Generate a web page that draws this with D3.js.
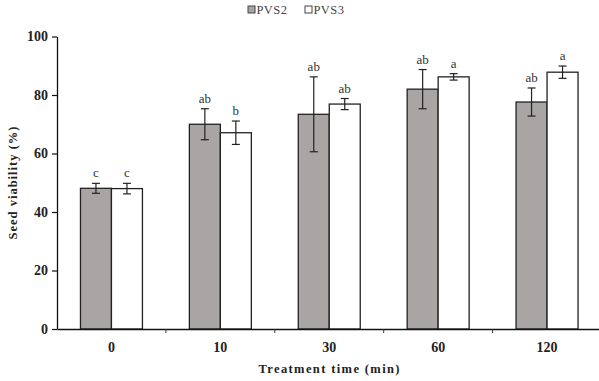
<!DOCTYPE html>
<html><head><meta charset="utf-8">
<script src="https://cdn.jsdelivr.net/npm/d3@7/dist/d3.min.js"></script>
<style>body{margin:0;background:#fff}svg{display:block}text{font-family:"Liberation Serif","Times New Roman",serif}</style>
</head><body>
<svg id="c" width="599" height="381"></svg>
<script>
const categories = ["0","10","30","60","120"];
const seriesNames = ["PVS2","PVS3"];
const pvs2 = [48.1, 70.0, 73.4, 82.0, 77.6];
const pvs3 = [48.0, 67.1, 76.9, 86.2, 87.8];
const pvs2Err = [1.7, 5.3, 12.8, 6.7, 4.8];
const pvs3Err = [1.8, 4.0, 1.9, 1.1, 2.1];
const pvs2Letters = ["c","ab","ab","ab","ab"];
const pvs3Letters = ["c","b","ab","a","a"];
const yTicks = [0,20,40,60,80,100];

const svg = d3.select("#c");
const mLeft = 57, mBottom = 329, mTop = 36.5, step = 108.9;
const x = d3.scaleBand().domain(categories).range([mLeft, mLeft + step*categories.length]).padding(0);
const xi = d3.scaleBand().domain(seriesNames).range([0, x.bandwidth()]).paddingInner(0).paddingOuter(0.757);
const y = d3.scaleLinear().domain([0,100]).range([mBottom, mTop]);
const fills = {PVS2:"#a9a5a5", PVS3:"#ffffff"};

const data = [];
categories.forEach((c,i)=>{
  data.push({c, s:"PVS2", v:pvs2[i], e:pvs2Err[i], l:pvs2Letters[i]});
  data.push({c, s:"PVS3", v:pvs3[i], e:pvs3Err[i], l:pvs3Letters[i]});
});

// bars
svg.append("g").selectAll("rect").data(data).join("rect")
  .attr("x", d=>x(d.c)+xi(d.s))
  .attr("y", d=>y(d.v))
  .attr("width", xi.bandwidth())
  .attr("height", d=>y(0)-y(d.v))
  .attr("fill", d=>fills[d.s])
  .attr("stroke", "#222").attr("stroke-width", 1.3);

// error bars
const eg = svg.append("g").attr("stroke","#222").attr("stroke-width",1.2);
data.forEach(d=>{
  const cx = x(d.c)+xi(d.s)+xi.bandwidth()/2;
  eg.append("line").attr("x1",cx).attr("x2",cx).attr("y1",y(d.v+d.e)).attr("y2",y(d.v-d.e));
  eg.append("line").attr("x1",cx-4).attr("x2",cx+4).attr("y1",y(d.v+d.e)).attr("y2",y(d.v+d.e));
  eg.append("line").attr("x1",cx-4).attr("x2",cx+4).attr("y1",y(d.v-d.e)).attr("y2",y(d.v-d.e));
});

// letters
svg.append("g").selectAll("text").data(data).join("text")
  .attr("x", d=>x(d.c)+xi(d.s)+xi.bandwidth()/2)
  .attr("y", d=>y(d.v+d.e)-6)
  .attr("text-anchor","middle")
  .attr("font-size", 13).attr("fill","#333")
  .text(d=>d.l);

// y axis
const ya = svg.append("g").attr("transform",`translate(${mLeft},0)`)
  .call(d3.axisLeft(y).tickValues(yTicks).tickSize(5).tickSizeOuter(0));
ya.select(".domain").attr("stroke","#111").attr("stroke-width",1.3);
ya.selectAll(".tick line").attr("stroke","#111").attr("stroke-width",1.2);
ya.selectAll(".tick text").attr("font-size",14).attr("font-weight","bold").attr("fill","#222")
  .attr("font-family","'Liberation Serif',serif").attr("x",-9);

// x axis
const xa = svg.append("g").attr("transform",`translate(0,${mBottom})`)
  .call(d3.axisBottom(x).tickSize(0).tickSizeOuter(0).tickPadding(13));
xa.select(".domain").attr("stroke","#111").attr("stroke-width",1.3);
xa.selectAll(".tick text").attr("font-size",14).attr("font-weight","bold").attr("fill","#222")
  .attr("font-family","'Liberation Serif',serif");
// boundary ticks between groups
svg.append("g").selectAll("line").data(categories.slice(1)).join("line")
  .attr("x1", d=>x(d)).attr("x2", d=>x(d))
  .attr("y1", mBottom).attr("y2", mBottom+4)
  .attr("stroke","#333").attr("stroke-width",1);

// axis titles
svg.append("text").attr("x", 329).attr("y", 373).attr("text-anchor","middle")
  .attr("font-size",12.5).attr("font-weight","bold").attr("fill","#222")
  .attr("textLength",141).attr("lengthAdjust","spacing")
  .text("Treatment time (min)");
svg.append("text").attr("transform","translate(17,183) rotate(-90)").attr("text-anchor","middle")
  .attr("font-size",12.5).attr("font-weight","bold").attr("fill","#222")
  .attr("textLength",113).attr("lengthAdjust","spacing")
  .text("Seed viability (%)");

// legend
const lg = svg.append("g");
const lx = [248, 305];
seriesNames.forEach((s,i)=>{
  lg.append("rect").attr("x",lx[i]).attr("y",6).attr("width",7).attr("height",7)
    .attr("fill",fills[s]).attr("stroke","#444").attr("stroke-width",1);
  lg.append("text").attr("x",lx[i]+8.5).attr("y",14).attr("font-size",12.5).attr("fill","#444")
    .attr("letter-spacing",0.4).text(s);
});
</script>
</body></html>
